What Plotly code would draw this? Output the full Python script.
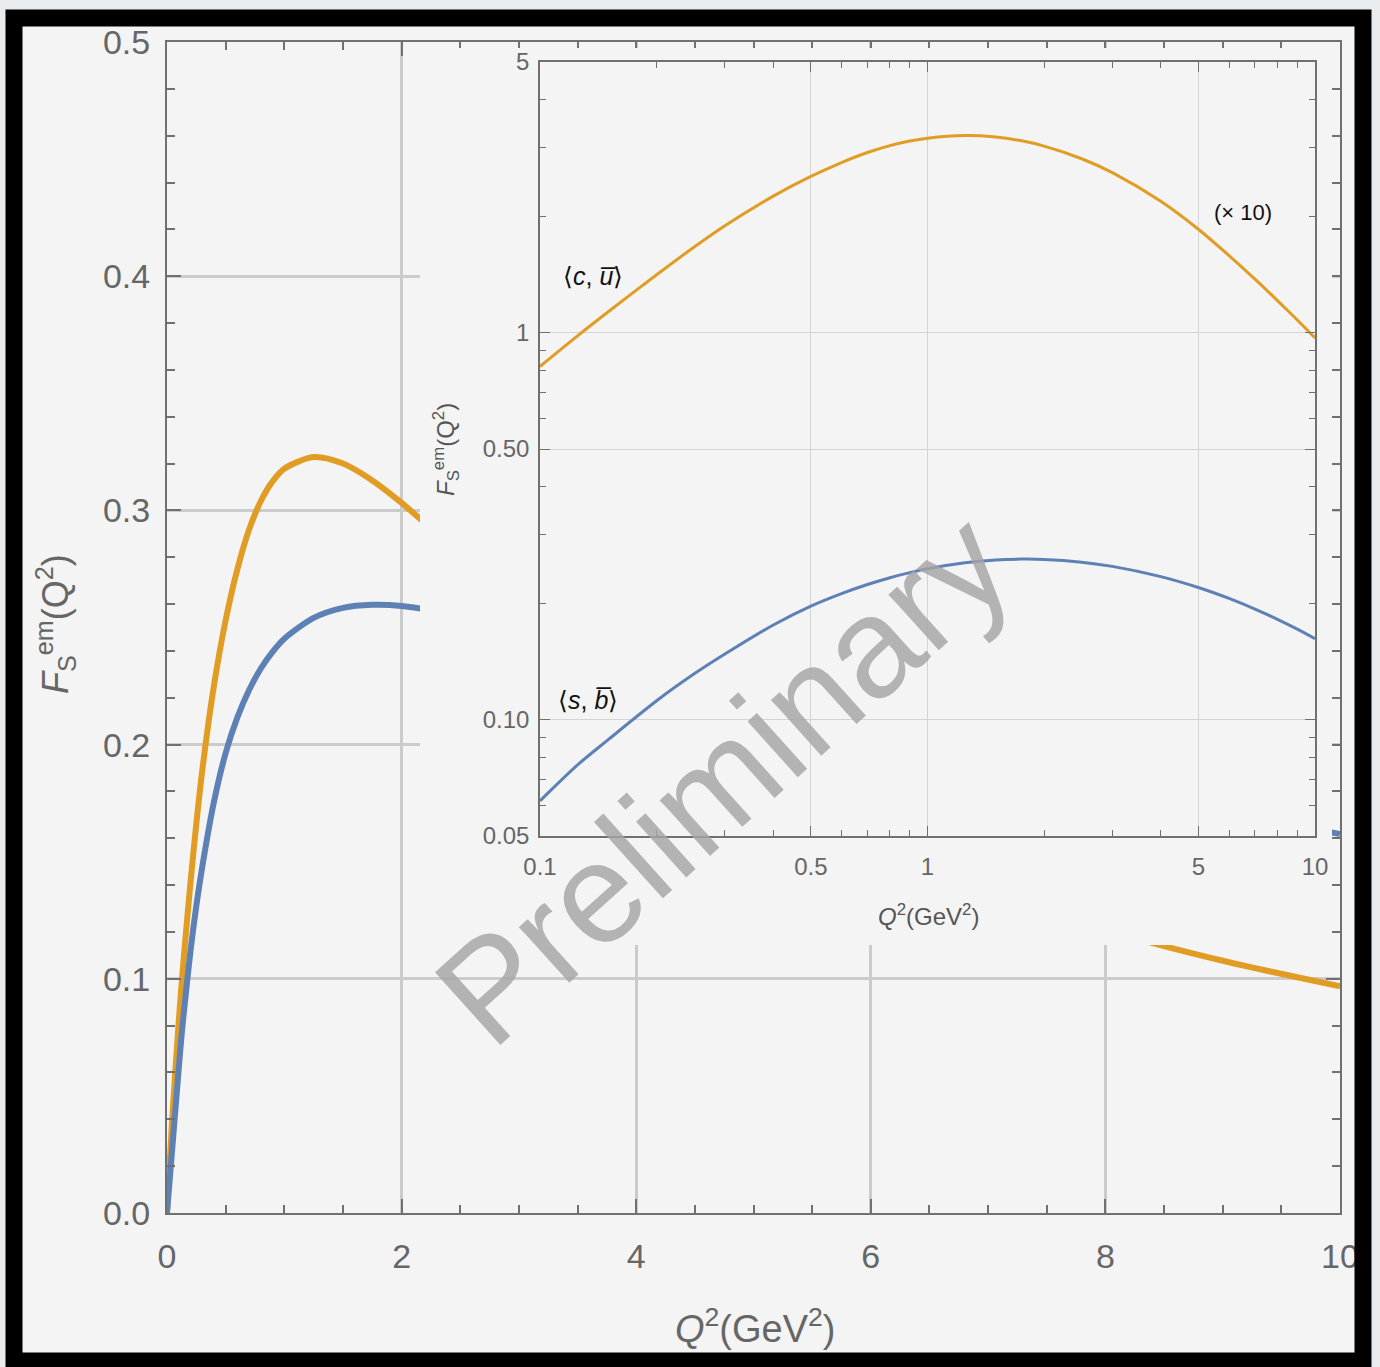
import plotly.graph_objects as go

# ---------------------------------------------------------------- data
q2 = [0, 0.01, 0.02, 0.05, 0.1, 0.125, 0.15, 0.2, 0.25, 0.3, 0.4, 0.5, 0.6, 0.7,
      0.8, 0.9, 1.0, 1.25, 1.5, 1.75, 2.0, 2.5, 3.0, 4.0, 5.0, 6.0, 7.0, 8.0, 9.0, 10.0]
# <c, u-bar> scalar form factor
f_cu = [0, 0.0097, 0.0189, 0.0444, 0.0817, 0.0980, 0.1131, 0.1410, 0.1663, 0.1887,
        0.2251, 0.2531, 0.2749, 0.2918, 0.3040, 0.3124, 0.3178, 0.3228, 0.3200, 0.3128,
        0.3032, 0.2812, 0.2588, 0.2182, 0.1848, 0.1580, 0.1373, 0.1209, 0.1077, 0.0968]
# <s, b-bar> scalar form factor
f_sb = [0, 0.0062, 0.0123, 0.0308, 0.0616, 0.0763, 0.0887, 0.1118, 0.1312, 0.1476,
        0.1755, 0.1964, 0.2116, 0.2233, 0.2325, 0.2396, 0.2452, 0.2541, 0.2584, 0.2597,
        0.2592, 0.2550, 0.2487, 0.2340, 0.2193, 0.2055, 0.1929, 0.1815, 0.1712, 0.1618]
cu_scale = 10  # <c, u-bar> is shown multiplied by 10 in the log-log panel

main_x_ticks = [0, 2, 4, 6, 8, 10]
main_x_text = ["0", "2", "4", "6", "8", "10"]
main_y_ticks = [0.0, 0.1, 0.2, 0.3, 0.4, 0.5]
main_y_text = ["0.0", "0.1", "0.2", "0.3", "0.4", "0.5"]

inset_x_ticks = [0.1, 0.5, 1, 5, 10]
inset_x_text = ["0.1", "0.5", "1", "5", "10"]
inset_x_minor = [0.2, 0.3, 0.4, 0.6, 0.7, 0.8, 0.9, 2, 3, 4, 6, 7, 8, 9]
inset_y_ticks = [0.05, 0.1, 0.5, 1, 5]
inset_y_text = ["0.05", "0.10", "0.50", "1", "5"]
inset_y_minor = [0.06, 0.07, 0.08, 0.09, 0.2, 0.3, 0.4, 0.6, 0.7, 0.8, 0.9, 2, 3, 4]

# ---------------------------------------------------------------- style
W, H = 1380, 1367
BG = "#f4f4f4"
OUTER = "#e9ecef"
AX = "#707070"
TXT = "#666666"
GRID_MAIN = "#cbcbcb"
GRID_INSET = "#d4d4d4"
ORANGE = "#e19c24"
BLUE = "#5e81b5"
FONT = "Liberation Sans, Arial, Helvetica, sans-serif"


def px(x):
    return x / W


def py(y):
    return 1 - y / H


fig = go.Figure()

# main linear panel
fig.add_trace(go.Scatter(x=q2, y=f_cu, mode="lines",
                         line=dict(color=ORANGE, width=6, shape="spline", smoothing=0.8),
                         xaxis="x", yaxis="y", hoverinfo="skip"))
fig.add_trace(go.Scatter(x=q2, y=f_sb, mode="lines",
                         line=dict(color=BLUE, width=6, shape="spline", smoothing=0.8),
                         xaxis="x", yaxis="y", hoverinfo="skip"))

# opaque backing for the inset panel
fig.add_trace(go.Scatter(x=[0, 1, 1, 0, 0], y=[0, 0, 1, 1, 0], mode="none", fill="toself",
                         fillcolor=BG, xaxis="x2", yaxis="y2", hoverinfo="skip"))

# inset log-log panel
ins_q = [q for q in q2 if q >= 0.1]
ins_cu = [v * cu_scale for q, v in zip(q2, f_cu) if q >= 0.1]
ins_sb = [v for q, v in zip(q2, f_sb) if q >= 0.1]
fig.add_trace(go.Scatter(x=ins_q, y=ins_cu, mode="lines",
                         line=dict(color=ORANGE, width=3, shape="spline", smoothing=0.8),
                         xaxis="x3", yaxis="y3", hoverinfo="skip"))
fig.add_trace(go.Scatter(x=ins_q, y=ins_sb, mode="lines",
                         line=dict(color=BLUE, width=3, shape="spline", smoothing=0.8),
                         xaxis="x3", yaxis="y3", hoverinfo="skip"))

main_axis = dict(ticks="inside", tickwidth=2, tickcolor=AX, ticklen=14,
                 showline=True, linecolor=AX, linewidth=2, mirror="ticks",
                 showgrid=True, gridcolor=GRID_MAIN, gridwidth=3, zeroline=False,
                 tickfont=dict(family=FONT, size=34, color=TXT), fixedrange=True)
inset_axis = dict(type="log", ticks="inside", tickwidth=1.3, tickcolor=AX, ticklen=10,
                  showline=True, linecolor=AX, linewidth=1.5, mirror="ticks",
                  showgrid=True, gridcolor=GRID_INSET, gridwidth=1, zeroline=False,
                  tickfont=dict(family=FONT, size=24, color=TXT), fixedrange=True)

fig.update_layout(
    width=W, height=H,
    margin=dict(l=0, r=0, t=0, b=0, pad=0, autoexpand=False),
    paper_bgcolor=OUTER, plot_bgcolor=BG,
    showlegend=False, hovermode=False,
    xaxis=dict(main_axis, domain=[px(167), px(1340)], range=[0, 10], anchor="y",
               tickmode="array", tickvals=main_x_ticks, ticktext=main_x_text, ticklabelstandoff=12,
               minor=dict(dtick=0.5, tick0=0, ticks="inside", ticklen=8, tickwidth=2,
                          tickcolor=AX, showgrid=False)),
    yaxis=dict(main_axis, domain=[py(1213), py(42)], range=[0, 0.5], anchor="x",
               tickmode="array", tickvals=main_y_ticks, ticktext=main_y_text, ticklabelstandoff=8,
               minor=dict(dtick=0.02, tick0=0, ticks="inside", ticklen=8, tickwidth=2,
                          tickcolor=AX, showgrid=False)),
    xaxis2=dict(domain=[px(420), px(1332)], range=[0, 1], visible=False, fixedrange=True, anchor="y2"),
    yaxis2=dict(domain=[py(945), py(48)], range=[0, 1], visible=False, fixedrange=True, anchor="x2"),
    xaxis3=dict(inset_axis, domain=[px(540), px(1315)], range=[-1, 1], anchor="y3",
                tickmode="array", tickvals=inset_x_ticks, ticktext=inset_x_text, ticklabelstandoff=8,
                minor=dict(tickmode="array", tickvals=inset_x_minor, ticks="inside", ticklen=6,
                           tickwidth=1.3, tickcolor=AX, showgrid=False)),
    yaxis3=dict(inset_axis, domain=[py(836), py(62)], range=[-1.30103, 0.69897], anchor="x3",
                tickmode="array", tickvals=inset_y_ticks, ticktext=inset_y_text, ticklabelstandoff=4,
                minor=dict(tickmode="array", tickvals=inset_y_minor, ticks="inside", ticklen=6,
                           tickwidth=1.3, tickcolor=AX, showgrid=False)),
)


def label(x, y, text, size, color, angle=0, **kw):
    fig.add_annotation(x=px(x), y=py(y), xref="paper", yref="paper", text=text, showarrow=False,
                       textangle=angle, xanchor="center", yanchor="middle",
                       font=dict(family=FONT, size=size, color=color), **kw)


# axis titles
label(755, 1326, "<i>Q</i><sup>2</sup>(GeV<sup>2</sup>)", 38, TXT)
label(55, 624, "<i>F</i><sub>S</sub><sup>em</sup>(Q<sup>2</sup>)", 36, TXT, angle=-90)
label(928, 915, "<i>Q</i><sup>2</sup>(GeV<sup>2</sup>)", 24, "#555555")
label(446, 450, "<i>F</i><sub>S</sub><sup>em</sup>(Q<sup>2</sup>)", 24, "#555555", angle=-90)

# curve labels
label(593, 276, "\u27e8<i>c</i>, <i>u\u0305</i>\u27e9", 25, "#111111")
label(588, 700, "\u27e8<i>s</i>, <i>b\u0305</i>\u27e9", 25, "#111111")
label(1243, 213, "(\u00d7 10)", 22, "#111111")

# watermark
label(722, 778, "Preliminary", 142, "rgba(165,165,165,0.82)", angle=-42)

# sheet inside the frame
fig.add_shape(type="rect", xref="paper", yref="paper",
              x0=px(8), x1=px(1370), y0=py(1367), y1=py(12),
              line=dict(width=0), fillcolor=BG, layer="below")
# hand-drawn style frame around the figure
fig.add_shape(type="rect", xref="paper", yref="paper",
              x0=px(14), x1=px(1363), y0=py(1361), y1=py(18),
              line=dict(color="black", width=17), fillcolor="rgba(0,0,0,0)", layer="above")

fig.write_html("out.html")
